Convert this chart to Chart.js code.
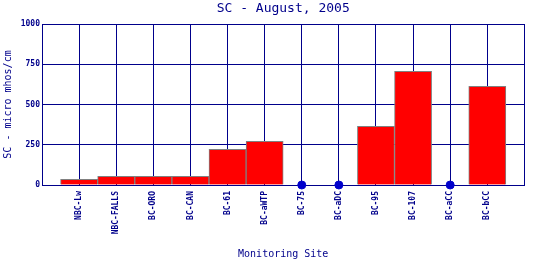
<!DOCTYPE html>
<html>
<head>
<meta charset="utf-8">
<script src="https://cdn.jsdelivr.net/npm/chart.js"></script>
<style>
  html, body { margin: 0; padding: 0; background: #ffffff; }
  #wrap { width: 540px; height: 260px; }
</style>
</head>
<body>
<div id="wrap"><canvas id="scChart" width="540" height="260"></canvas></div>
<script>
// Sitios de monitoreo y valores de SC (micro mhos/cm), agosto 2005
const sites = ['NBC-Lw', 'NBC-FALLS', 'BC-ORO', 'BC-CAN', 'BC-61', 'BC-aWTP',
               'BC-75', 'BC-aDC', 'BC-95', 'BC-107', 'BC-aCC', 'BC-bCC'];
const scValues = [35, 54, 54, 54, 222, 271, 0, 0, 365, 706, 0, 613];
const yTicks = [0, 250, 500, 750, 1000];
const chartTitle = 'SC - August, 2005';

const NAVY = '#00008b';
const FONT = "'DejaVu Sans Mono', 'Liberation Mono', monospace";

// una categoria vacia a cada lado, como en el grafico original
const labels = [''].concat(sites, ['']);
const barData = [null].concat(scValues.map(v => v > 0 ? v : null), [null]);
const zeroData = [null].concat(scValues.map(v => v === 0 ? 0 : null), [null]);

// titulo centrado sobre el area del grafico (no sobre todo el canvas)
const areaTitle = {
    id: 'areaTitle',
    afterDraw(chart) {
        const c = chart.ctx;
        const area = chart.chartArea;
        c.save();
        c.fillStyle = NAVY;
        c.font = '13px ' + FONT;
        c.textAlign = 'center';
        c.textBaseline = 'middle';
        c.fillText(chartTitle, (area.left + area.right) / 2, 9);
        c.restore();
    }
};

const ctx = document.getElementById('scChart').getContext('2d');
new Chart(ctx, {
    type: 'bar',
    data: {
        labels: labels,
        datasets: [{
            label: 'SC',
            data: barData,
            backgroundColor: '#ff0000',
            borderColor: '#808080',
            borderWidth: 1,
            barPercentage: 1,
            categoryPercentage: 1,
            order: 2
        }, {
            type: 'line',
            label: 'cero',
            data: zeroData,
            showLine: false,
            pointRadius: 4,
            pointHoverRadius: 4,
            pointBackgroundColor: '#0000cc',
            pointBorderColor: '#0000cc',
            clip: false,
            order: 1
        }]
    },
    options: {
        responsive: false,
        animation: false,
        layout: { padding: { left: 0, right: 4, top: 24, bottom: 0 } },
        plugins: {
            legend: { display: false },
            tooltip: { enabled: false },
            title: { display: false }
        },
        scales: {
            x: {
                offset: false,
                grid: { color: NAVY, lineWidth: 1, drawTicks: false, offset: false },
                border: { color: NAVY, width: 1 },
                ticks: {
                    color: NAVY,
                    autoSkip: false,
                    minRotation: 90,
                    maxRotation: 90,
                    padding: 6,
                    font: { family: FONT, size: 8, weight: 'bold' }
                },
                title: {
                    display: true,
                    text: 'Monitoring Site',
                    color: NAVY,
                    font: { family: FONT, size: 10 },
                    padding: { top: 0, bottom: 0 }
                },
                afterFit: function (scale) { scale.height = 75; }
            },
            y: {
                min: 0,
                max: 1000,
                afterBuildTicks: function (scale) {
                    scale.ticks = yTicks.map(v => ({ value: v }));
                },
                grid: { color: NAVY, lineWidth: 1, drawTicks: false },
                border: { color: NAVY, width: 1 },
                ticks: {
                    color: NAVY,
                    padding: 2,
                    font: { family: FONT, size: 8, weight: 'bold' },
                    callback: function (value) { return String(value); }
                },
                title: {
                    display: true,
                    text: 'SC - micro mhos/cm',
                    color: NAVY,
                    font: { family: FONT, size: 10 },
                    padding: { top: 2, bottom: 0 }
                },
                afterFit: function (scale) { scale.width = 42; }
            }
        }
    },
    plugins: [areaTitle]
});
</script>
</body>
</html>
